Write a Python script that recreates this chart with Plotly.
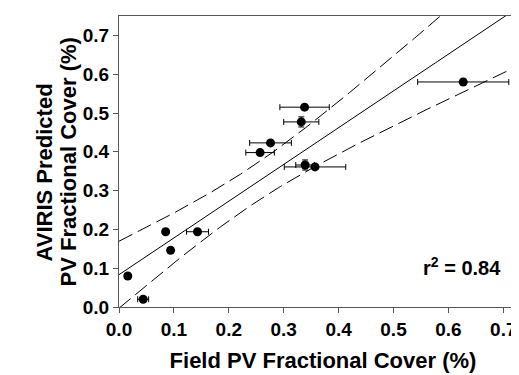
import numpy as np
import plotly.graph_objects as go

# Field vs AVIRIS-predicted PV fractional cover
field_pv = [0.016, 0.044, 0.085, 0.094, 0.143, 0.257, 0.276, 0.332, 0.338, 0.339, 0.357, 0.627]
aviris_pv = [0.080, 0.020, 0.194, 0.146, 0.194, 0.398, 0.423, 0.477, 0.515, 0.366, 0.361, 0.580]
field_err = [0.005, 0.010, 0.005, 0.005, 0.020, 0.026, 0.038, 0.032, 0.045, 0.017, 0.056, 0.083]
aviris_err = [0, 0, 0, 0, 0, 0, 0, 0.013, 0, 0.013, 0, 0]
t_95 = 2.228  # two-sided 95% t value, n-2 = 10 df
x_ticks = [0.0, 0.1, 0.2, 0.3, 0.4, 0.5, 0.6, 0.7]
y_ticks = [0.0, 0.1, 0.2, 0.3, 0.4, 0.5, 0.6, 0.7]
r2_label = "r<sup>2</sup> = 0.84"
x_title = "Field PV Fractional Cover (%)"
y_title_1 = "AVIRIS Predicted"
y_title_2 = "PV Fractional Cover (%)"

x = np.array(field_pv)
y = np.array(aviris_pv)
n = len(x)
slope, intercept = np.polyfit(x, y, 1)
xbar = x.mean()
sxx = ((x - xbar) ** 2).sum()
resid = y - (intercept + slope * x)
s2 = (resid ** 2).sum() / (n - 2)
xs = np.linspace(0, 0.76, 200)
yhat = intercept + slope * xs
half = t_95 * np.sqrt(s2 * (1 / n + (xs - xbar) ** 2 / sxx))

FONT = "Liberation Sans, Arial, sans-serif"

def bold_font(size):
    return dict(family=FONT, size=size, color="black", weight="bold")

layout_w, layout_h = 519, 375
ml, mr, mt, mb = 111, 0, 8, 76
pw = layout_w - ml - mr
ph = layout_h - mt - mb

def px_to_paper_x(px):
    return (px - ml) / pw

def px_to_paper_y(py):
    return (layout_h - mb - py) / ph

fig = go.Figure()
fig.add_trace(go.Scatter(x=xs, y=yhat, mode="lines", line=dict(color="black", width=1), hoverinfo="skip"))
fig.add_trace(go.Scatter(x=xs, y=yhat + half, mode="lines", line=dict(color="black", width=1, dash="15px,6px"), hoverinfo="skip"))
fig.add_trace(go.Scatter(x=xs, y=yhat - half, mode="lines", line=dict(color="black", width=1, dash="15px,6px"), hoverinfo="skip"))
fig.add_trace(go.Scatter(
    x=field_pv, y=aviris_pv, mode="markers",
    marker=dict(color="black", size=9),
    error_x=dict(type="data", array=field_err, color="black", thickness=1, width=3),
    error_y=dict(type="data", array=aviris_err, color="black", thickness=1, width=3),
))

fig.add_annotation(x=0.7, y=0.105, xref="x", yref="y", text=r2_label, showarrow=False,
                   xanchor="right", font=bold_font(20))
fig.add_annotation(x=px_to_paper_x(21), y=px_to_paper_y(165), xref="paper", yref="paper",
                   text=y_title_1, textangle=-90, showarrow=False, font=bold_font(22))
fig.add_annotation(x=px_to_paper_x(45), y=px_to_paper_y(154), xref="paper", yref="paper",
                   text=y_title_2, textangle=-90, showarrow=False, font=bold_font(22))

axis_common = dict(
    showgrid=False, zeroline=False, showline=True, linecolor="#555555", linewidth=1,
    ticks="outside", ticklen=5, tickcolor="#555555", tickformat=".1f",
    tickfont=bold_font(19),
)
fig.update_layout(
    width=layout_w, height=layout_h,
    margin=dict(l=ml, r=mr, t=mt, b=mb),
    plot_bgcolor="white", paper_bgcolor="white",
    showlegend=False,
    xaxis=dict(range=[0, pw / 549], tickvals=x_ticks, mirror=True,
               title=dict(text=x_title, standoff=13, font=bold_font(22)),
               **axis_common),
    yaxis=dict(range=[0, 0.75], tickvals=y_ticks, **axis_common),
)
fig.write_html("out.html")
